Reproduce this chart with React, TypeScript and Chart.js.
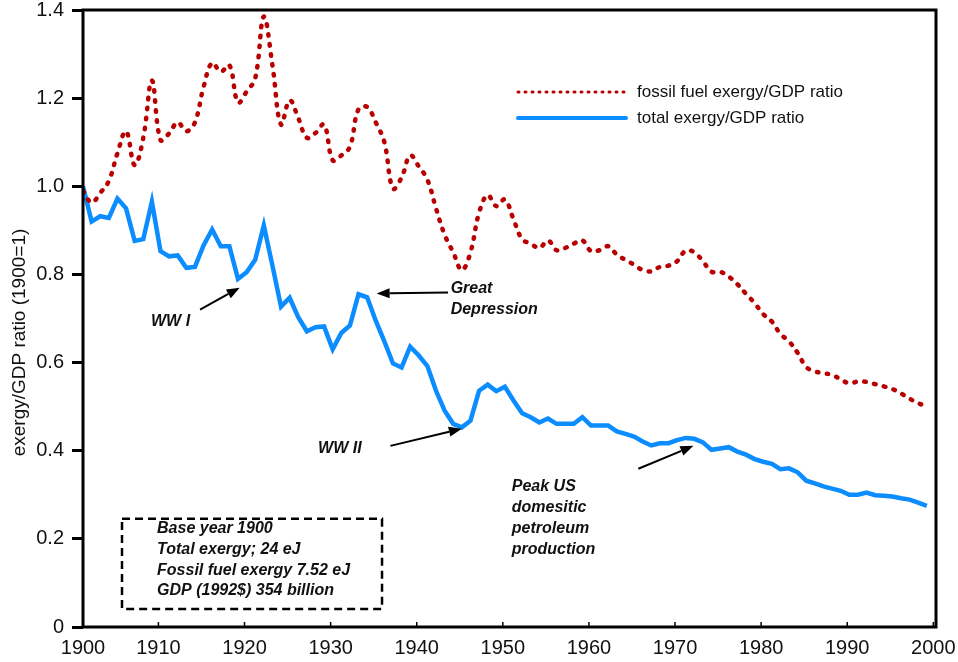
import React, { useEffect, useRef } from 'react';
import { Chart, registerables } from 'chart.js';

Chart.register(...registerables);

const FONT = "'Liberation Sans', Arial, Helvetica, sans-serif";

// ---------- data ----------
const years = [
  1900, 1901, 1902, 1903, 1904, 1905, 1906, 1907, 1908, 1909,
  1910, 1911, 1912, 1913, 1914, 1915, 1916, 1917, 1918, 1919,
  1920, 1921, 1922, 1923, 1924, 1925, 1926, 1927, 1928, 1929,
  1930, 1931, 1932, 1933, 1934, 1935, 1936, 1937, 1938, 1939,
  1940, 1941, 1942, 1943, 1944, 1945, 1946, 1947, 1948, 1949,
  1950, 1951, 1952, 1953, 1954, 1955, 1956, 1957, 1958, 1959,
  1960, 1961, 1962, 1963, 1964, 1965, 1966, 1967, 1968, 1969,
  1970, 1971, 1972, 1973, 1974, 1975, 1976, 1977, 1978, 1979,
  1980, 1981, 1982, 1983, 1984, 1985, 1986, 1987, 1988, 1989,
  1990, 1991, 1992, 1993, 1994, 1995, 1996, 1997, 1998,
];

const fossilRatio = [
  0.990, 0.963, 0.985, 1.012, 1.075, 1.125, 1.048, 1.110, 1.240, 1.105,
  1.120, 1.145, 1.125, 1.145, 1.225, 1.280, 1.260, 1.275, 1.190, 1.215,
  1.245, 1.385, 1.275, 1.140, 1.195, 1.155, 1.110, 1.121, 1.140, 1.059,
  1.070, 1.090, 1.175, 1.180, 1.145, 1.100, 0.995, 1.020, 1.070, 1.045,
  1.015, 0.950, 0.890, 0.850, 0.810, 0.850, 0.940, 0.980, 0.955, 0.970,
  0.925, 0.880, 0.870, 0.860, 0.877, 0.855, 0.860, 0.870, 0.877, 0.853,
  0.855, 0.864, 0.845, 0.833, 0.822, 0.810, 0.807, 0.817, 0.820, 0.830,
  0.854, 0.850, 0.830, 0.806, 0.806, 0.795, 0.778, 0.756, 0.735, 0.710,
  0.693, 0.665, 0.648, 0.622, 0.590, 0.580, 0.576, 0.572, 0.562, 0.553,
  0.557, 0.556, 0.551, 0.546, 0.540, 0.530, 0.518, 0.508, 0.500,
];

const totalRatio = [
  1.000, 0.920, 0.932, 0.928, 0.972, 0.950, 0.876, 0.880, 0.965, 0.853,
  0.841, 0.843, 0.815, 0.817, 0.866, 0.902, 0.864, 0.864, 0.790, 0.805,
  0.833, 0.911, 0.820, 0.727, 0.747, 0.703, 0.671, 0.680, 0.682, 0.630,
  0.667, 0.684, 0.755, 0.748, 0.695, 0.648, 0.598, 0.589, 0.636, 0.616,
  0.592, 0.536, 0.491, 0.461, 0.453, 0.468, 0.536, 0.550, 0.535, 0.545,
  0.514, 0.485, 0.476, 0.464, 0.473, 0.461, 0.461, 0.461, 0.476, 0.457,
  0.457, 0.457, 0.444, 0.438, 0.432, 0.421, 0.412, 0.417, 0.417, 0.424,
  0.429, 0.427, 0.419, 0.402, 0.405, 0.408, 0.398, 0.391, 0.381, 0.375,
  0.370, 0.358, 0.360, 0.351, 0.332, 0.326, 0.319, 0.314, 0.309, 0.300,
  0.300, 0.305, 0.299, 0.298, 0.296, 0.292, 0.289, 0.282, 0.275,
];

const seriesLabels = ['fossil fuel exergy/GDP ratio', 'total exergy/GDP ratio'];

// labelled x axis: the "1900" label sits at the axis origin, the others every decade
const xTickLabels = ['1900', '1910', '1920', '1930', '1940', '1950', '1960', '1970', '1980', '1990', '2000'];
const xTickYears = [1901.24, 1910, 1920, 1930, 1940, 1950, 1960, 1970, 1980, 1990, 2000];
const yTickLabels = ['0', '0.2', '0.4', '0.6', '0.8', '1.0', '1.2', '1.4'];
const yAxisTitle = 'exergy/GDP ratio (1900=1)';

const noteTexts = [
  { lines: ['WW I'], year: 1907.9, value: 0.693 },
  { lines: ['Great', 'Depression'], year: 1942.7, value: 0.768 },
  { lines: ['WW II'], year: 1927.3, value: 0.405 },
  { lines: ['Peak US', 'domesitic', 'petroleum', 'production'], year: 1949.8, value: 0.318 },
];
const noteArrows = [
  { from: [1913.6, 0.72], to: [1918.2, 0.77] },
  { from: [1942.4, 0.759], to: [1934.1, 0.757] },
  { from: [1935.7, 0.411], to: [1944.0, 0.45] },
  { from: [1964.5, 0.359], to: [1970.9, 0.411] },
];
const baseBoxLines = ['Base year 1900', 'Total exergy; 24 eJ', 'Fossil fuel exergy 7.52 eJ', 'GDP (1992$) 354 billion'];
const baseBox = { yearFrom: 1904.53, yearTo: 1934.73, valueTop: 0.2455, valueBottom: 0.041, textYear: 1908.6, textValue: 0.223 };

// ---------- styles ----------
const RED = '#b80000';
const BLUE = '#0b8cff';

const overlayPlugin = {
  id: 'overlay',
  afterDatasetsDraw(chart: any) {
    const { ctx, chartArea: a, scales } = chart;
    const xd = scales.xd;
    const xl = scales.x;
    const ys = scales.y;
    const px = (v: number) => xd.getPixelForValue(v);
    const py = (v: number) => ys.getPixelForValue(v);
    ctx.save();

    // frame
    ctx.setLineDash([]);
    ctx.strokeStyle = '#000';
    ctx.lineWidth = 3;
    ctx.strokeRect(a.left, a.top, a.right - a.left, a.bottom - a.top);

    // small x tick marks
    ctx.lineWidth = 1.5;
    xl.ticks.forEach((t: any, i: number) => {
      if (i === 0) return;
      const x = xl.getPixelForValue(t.value);
      ctx.beginPath();
      ctx.moveTo(x, a.bottom);
      ctx.lineTo(x, a.bottom - 5);
      ctx.stroke();
    });

    // arrows
    ctx.fillStyle = '#000';
    ctx.lineWidth = 2;
    noteArrows.forEach((ar) => {
      const x1 = px(ar.from[0]), y1 = py(ar.from[1]);
      const x2 = px(ar.to[0]), y2 = py(ar.to[1]);
      const ang = Math.atan2(y2 - y1, x2 - x1);
      const hl = 13, hw = 5;
      const bx = x2 - hl * Math.cos(ang), by = y2 - hl * Math.sin(ang);
      ctx.beginPath();
      ctx.moveTo(x1, y1);
      ctx.lineTo(bx, by);
      ctx.stroke();
      ctx.beginPath();
      ctx.moveTo(x2, y2);
      ctx.lineTo(bx + hw * Math.sin(ang), by - hw * Math.cos(ang));
      ctx.lineTo(bx - hw * Math.sin(ang), by + hw * Math.cos(ang));
      ctx.closePath();
      ctx.fill();
    });

    // notes
    ctx.font = `italic bold 16px ${FONT}`;
    ctx.fillStyle = '#111';
    ctx.textBaseline = 'middle';
    ctx.textAlign = 'left';
    noteTexts.forEach((n) => {
      n.lines.forEach((ln, i) => ctx.fillText(ln, px(n.year), py(n.value) + i * 21));
    });

    // base-year box
    ctx.setLineDash([8, 5]);
    ctx.lineWidth = 2.5;
    const bx0 = px(baseBox.yearFrom), bx1 = px(baseBox.yearTo);
    const by0 = py(baseBox.valueTop), by1 = py(baseBox.valueBottom);
    ctx.strokeRect(bx0, by0, bx1 - bx0, by1 - by0);
    ctx.setLineDash([]);
    baseBoxLines.forEach((ln, i) => ctx.fillText(ln, px(baseBox.textYear), py(baseBox.textValue) + i * 20.7));

    // legend
    const lx = a.left + 435, ly = a.top + 82;
    const styles = [
      { color: RED, width: 3, dash: [1, 6], cap: 'round' },
      { color: BLUE, width: 4, dash: [], cap: 'round' },
    ];
    chart.data.datasets.forEach((ds: any, i: number) => {
      const s = styles[i];
      const y = ly + i * 26;
      ctx.strokeStyle = s.color;
      ctx.lineWidth = s.width;
      ctx.lineCap = s.cap;
      ctx.setLineDash(s.dash);
      ctx.beginPath();
      ctx.moveTo(lx, y);
      ctx.lineTo(lx + 108, y);
      ctx.stroke();
      ctx.setLineDash([]);
      ctx.font = `17px ${FONT}`;
      ctx.fillStyle = '#111';
      ctx.fillText(ds.label, lx + 119, y);
    });

    // y axis title
    ctx.translate(20, (a.top + a.bottom) / 2 + 24);
    ctx.rotate(-Math.PI / 2);
    ctx.textAlign = 'center';
    ctx.font = `19px ${FONT}`;
    ctx.fillStyle = '#111';
    ctx.fillText(yAxisTitle, 0, 0);

    ctx.restore();
  },
};

export default function App() {
  const ref = useRef<HTMLCanvasElement | null>(null);

  useEffect(() => {
    if (!ref.current) return;
    const dataMin = years[0];
    const span = 99.07;
    const chart = new Chart(ref.current, {
      type: 'line',
      data: {
        datasets: [
          {
            label: seriesLabels[0],
            data: years.map((yr, i) => ({ x: yr, y: fossilRatio[i] })),
            xAxisID: 'xd',
            borderColor: RED,
            borderWidth: 4.5,
            borderDash: [1.5, 8.5],
            borderCapStyle: 'round',
            tension: 0.4,
            pointRadius: 0,
            fill: false,
          },
          {
            label: seriesLabels[1],
            data: years.map((yr, i) => ({ x: yr, y: totalRatio[i] })),
            xAxisID: 'xd',
            borderColor: BLUE,
            borderWidth: 4.5,
            tension: 0,
            pointRadius: 0,
            fill: false,
          },
        ],
      },
      options: {
        animation: false,
        responsive: true,
        maintainAspectRatio: false,
        layout: { padding: { left: 0, top: 10, right: 22, bottom: 0 } },
        plugins: { legend: { display: false }, tooltip: { enabled: false }, title: { display: false } },
        scales: {
          xd: {
            type: 'linear',
            display: false,
            min: dataMin,
            max: dataMin + span,
          },
          x: {
            type: 'linear',
            position: 'bottom',
            min: xTickYears[0],
            max: xTickYears[0] + span,
            afterBuildTicks: (scale: any) => {
              scale.ticks = xTickYears.map((v) => ({ value: v }));
            },
            afterFit: (scale: any) => {
              scale.height = 35;
              scale.paddingLeft = 0;
              scale.paddingRight = 0;
            },
            grid: { display: false, drawTicks: false },
            border: { display: false },
            ticks: {
              autoSkip: false,
              maxRotation: 0,
              minRotation: 0,
              padding: 9,
              color: '#111',
              font: { family: FONT, size: 20 },
              callback: (_v: any, i: number) => xTickLabels[i],
            },
          },
          y: {
            type: 'linear',
            min: 0,
            max: 1.4,
            afterFit: (scale: any) => {
              scale.width = 83;
              scale.paddingTop = 0;
              scale.paddingBottom = 0;
            },
            grid: { display: true, drawOnChartArea: false, drawTicks: true, tickLength: 11, lineWidth: 3, color: '#000' },
            border: { display: false },
            ticks: {
              stepSize: 0.2,
              padding: 8,
              color: '#111',
              font: { family: FONT, size: 20 },
              callback: (_v: any, i: number) => yTickLabels[i],
            },
          },
        },
      },
      plugins: [overlayPlugin],
    } as any);
    return () => chart.destroy();
  }, []);

  return (
    <div style={{ position: 'fixed', left: 0, top: 0, width: 958, height: 662, background: '#fff' }}>
      <canvas ref={ref} />
    </div>
  );
}
